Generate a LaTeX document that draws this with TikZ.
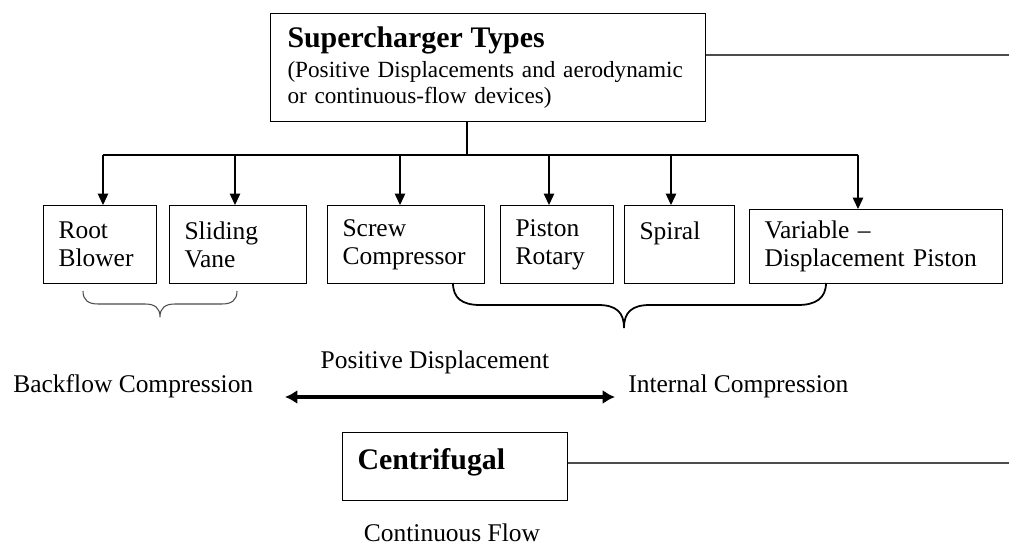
\documentclass[tikz,border=0pt]{standalone}
\usepackage{fontspec}
\setmainfont{Liberation Serif}
\usetikzlibrary{arrows.meta}
\tikzset{
  box/.style={draw, line width=0.6pt, anchor=north west, align=left,
    inner xsep=0.3cm, inner ysep=0pt, minimum height=1.56cm,
    font=\fontsize{14.5}{16}\selectfont},
  arr/.style={line width=0.6pt, -{Triangle[width=6pt,length=6.5pt]}},
  lbl/.style={inner sep=0pt, font=\fontsize{14.5}{16}\selectfont},
  side/.style={line width=0.6pt, draw=black!70}
}
\begin{document}
\begin{tikzpicture}[x=0.02cm, y=-0.02cm]
\useasboundingbox (0,0) rectangle (1009,547);
% heading box
\node[box, minimum height=2.16cm, inner xsep=0.34cm, text width=8.02cm,
  font=\fontsize{13.2}{14.8}\selectfont] (types) at (270,13)
  {{\bfseries\fontsize{17}{20}\selectfont Supercharger Types}\\[2pt]
   (Positive Displacements and aerodynamic\\
   or continuous-flow devices)};
\draw[side] (types.east |- 0,55) -- (1009,55);
% the six kinds
\node[box, text width=1.66cm] (root) at (43,205) {Root\\Blower};
\node[box, text width=2.14cm] (vane) at (169,205) {Sliding\\Vane};
\node[box, text width=2.54cm] (screw) at (327,205) {Screw\\Compressor};
\node[box, text width=1.66cm] (piston) at (500,205) {Piston\\Rotary};
\node[box, text width=1.6cm] (spiral) at (624,205) {Spiral\\~};
\node[box, text width=4.46cm, minimum height=1.48cm] (variable) at (749,209)
  {Variable --\\Displacement Piston};
% branch lines
\coordinate (split) at (467,155);
\coordinate (b1) at (103,155);
\coordinate (b2) at (235,155);
\coordinate (b3) at (400,155);
\coordinate (b4) at (549,155);
\coordinate (b5) at (671,155);
\coordinate (b6) at (858,155);
\draw[line width=0.6pt] (types.south -| split) -- (split);
\draw[line width=0.6pt] (b1) -- (b6);
\draw[arr] (b1) -- (b1 |- root.north);
\draw[arr] (b2) -- (b2 |- vane.north);
\draw[arr] (b3) -- (b3 |- screw.north);
\draw[arr] (b4) -- (b4 |- piston.north);
\draw[arr] (b5) -- (b5 |- spiral.north);
\draw[arr] (b6) -- (b6 |- variable.north);
% braces
\draw[line width=0.6pt, draw=black!70] (83,291) .. controls (83,300) and (88,304) .. (98,304)
  -- (145,304) .. controls (155,304) and (160,308) .. (160,317)
  .. controls (160,308) and (165,304) .. (175,304) -- (222,304)
  .. controls (232,304) and (237,300) .. (237,291);
\draw[line width=1pt] (453,283) .. controls (453,298) and (462,305) .. (480,305)
  -- (598,305) .. controls (616,305) and (624,312) .. (624,328)
  .. controls (624,312) and (632,305) .. (650,305) -- (798,305)
  .. controls (816,305) and (826,298) .. (826,283);
% positive displacement range
\node[lbl] (pd) at (435,362) {Positive Displacement};
\node[lbl, anchor=west] (back) at (13,386) {Backflow Compression};
\node[lbl, anchor=west] (internal) at (628,386) {Internal Compression};
\coordinate (l) at (285,397);
\coordinate (r) at (615,397);
\draw[line width=1.8pt, {Latex[width=8pt,length=7pt]}-{Latex[width=8pt,length=7pt]}] (l) -- (r);
% continuous flow
\node[box, text width=3.9cm, minimum height=1.36cm, text depth=9pt] (centri) at (342,432)
  {\bfseries\fontsize{17}{20}\selectfont Centrifugal};
\draw[side] (centri.east |- 0,463) -- (1009,463);
\node[lbl] (cf) at (452,533) {Continuous Flow};
\end{tikzpicture}
\end{document}
